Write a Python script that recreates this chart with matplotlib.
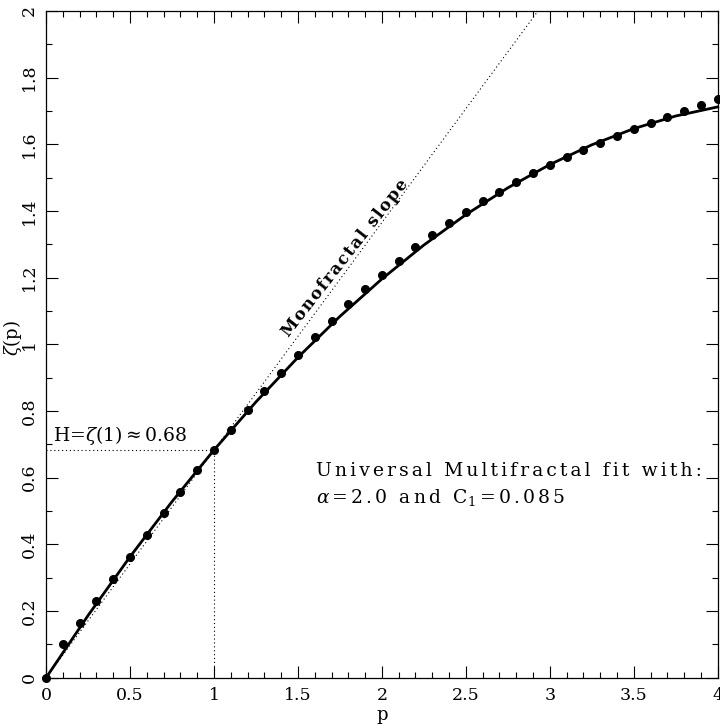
import matplotlib
matplotlib.use('Agg')
import matplotlib.pyplot as plt
from matplotlib.ticker import MultipleLocator, FormatStrFormatter

plt.rcParams['font.family'] = 'DejaVu Serif'
plt.rcParams['mathtext.fontset'] = 'dejavuserif'

# measured structure function exponents
p_data = [0.0, 0.1, 0.2, 0.3, 0.4, 0.5, 0.6, 0.7, 0.8, 0.9, 1.0,
          1.1, 1.2, 1.3, 1.4, 1.5, 1.6, 1.7, 1.8, 1.9, 2.0,
          2.1, 2.2, 2.3, 2.4, 2.5, 2.6, 2.7, 2.8, 2.9, 3.0,
          3.1, 3.2, 3.3, 3.4, 3.5, 3.6, 3.7, 3.8, 3.9, 4.0]
zeta_data = [0.0, 0.100, 0.165, 0.230, 0.297, 0.363, 0.428, 0.493, 0.557, 0.622, 0.683,
             0.743, 0.802, 0.859, 0.915, 0.968, 1.023, 1.071, 1.121, 1.165, 1.209,
             1.250, 1.292, 1.328, 1.363, 1.397, 1.429, 1.456, 1.487, 1.513, 1.539,
             1.563, 1.583, 1.605, 1.626, 1.646, 1.665, 1.682, 1.700, 1.718, 1.737]

# universal multifractal fit (alpha=2, C1=0.085)
p_fit = [0.0, 0.25, 0.5, 0.75, 1.0, 1.25, 1.5, 1.75, 2.0, 2.25, 2.5,
         2.75, 3.0, 3.25, 3.5, 3.75, 4.0]
zeta_fit = [0.0, 0.1867, 0.3628, 0.5282, 0.683, 0.8272, 0.9608, 1.0837, 1.196,
            1.2977, 1.3888, 1.4692, 1.539, 1.5982, 1.6468, 1.6847, 1.712]

# monofractal slope line, zeta = H p
p_mono = [0.0, 2.93]
zeta_mono = [0.0, 2.0]
H = 0.683

SIXTH = '\u2006'
HAIR = '\u200a'


def spaced(s, gap=SIXTH):
    """old plotter fonts are widely spaced, fake it with narrow spaces"""
    return gap.join(s)


fig = plt.figure(figsize=(7.2, 7.25), dpi=100)
ax = fig.add_axes([0.064, 0.0652, 0.9328, 0.9198])

dots = (0, (1, 2.5))
ax.plot(p_mono, zeta_mono, color='black', linestyle=dots, linewidth=0.8)
ax.plot([0, 1], [H, H], color='black', linestyle=dots, linewidth=0.8)
ax.plot([1, 1], [0, H], color='black', linestyle=dots, linewidth=0.8)
ax.plot(p_fit, zeta_fit, color='black', linewidth=2.0, clip_on=False)
ax.plot(p_data, zeta_data, 'o', color='black', markersize=5.5, clip_on=False)

ax.set_xlim(0, 4)
ax.set_ylim(0, 2)

ax.xaxis.set_major_locator(MultipleLocator(0.5))
ax.xaxis.set_minor_locator(MultipleLocator(0.1))
ax.yaxis.set_major_locator(MultipleLocator(0.2))
ax.yaxis.set_minor_locator(MultipleLocator(0.1))
ax.xaxis.set_major_formatter(FormatStrFormatter('%g'))
ax.yaxis.set_major_formatter(FormatStrFormatter('%g'))

ax.tick_params(which='both', direction='in', top=True, right=True,
               width=0.8, labelsize=12.5)
ax.tick_params(which='major', length=8.6)
ax.tick_params(which='minor', length=4.3)
ax.tick_params(axis='x', pad=7)
ax.tick_params(axis='y', pad=6)
for lab in ax.get_yticklabels():
    lab.set_rotation(90)
    lab.set_va('center')
for sp in ax.spines.values():
    sp.set_linewidth(0.9)

ax.set_xlabel('p', fontsize=13)
ax.xaxis.set_label_coords(0.5, -0.042)
ax.set_ylabel(r'$\zeta$(p)', fontsize=13)
ax.yaxis.set_label_coords(-0.033, 0.51)

ax.text(0.04, 0.71, r'H=$\zeta$(1)$\approx$0.68', fontsize=13.5)
ax.text(1.61, 0.605, spaced('Universal Multifractal fit with:'), fontsize=13.5)
ax.text(1.61, 0.524,
        r'$\alpha$' + SIXTH + spaced('=2.0 and C') + r'$_1$' + SIXTH + spaced('=0.085'),
        fontsize=13.5)
ax.text(1.78, 1.26, spaced('Monofractal slope', HAIR), fontsize=12,
        fontweight='bold', rotation=52, rotation_mode='anchor',
        ha='center', va='center')

fig.savefig('out.png', dpi=100)
